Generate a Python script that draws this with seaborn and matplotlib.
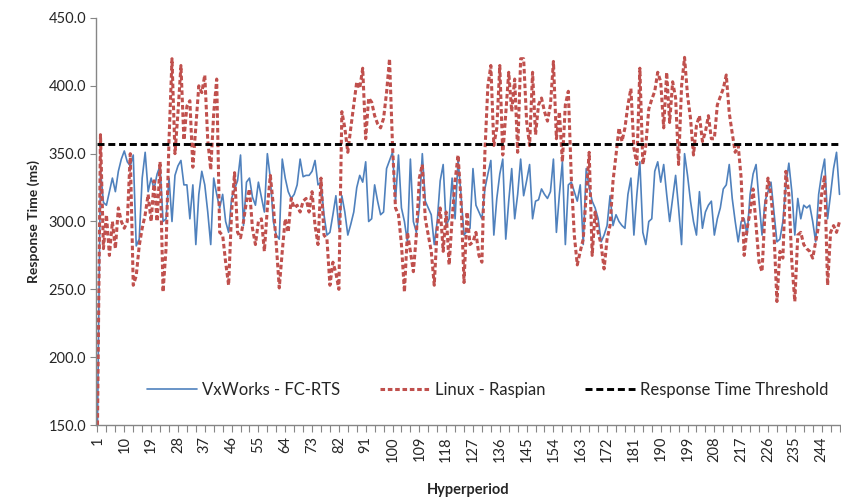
import matplotlib
matplotlib.use("Agg")
import matplotlib.pyplot as plt
import seaborn as sns
import pandas as pd
from matplotlib.ticker import FixedLocator

vxworks = [
    150, 338, 314, 312, 322, 332, 322, 337, 346, 352, 344, 341, 349, 282, 287, 332, 351, 322, 332, 324,
    335, 341, 300, 302, 332, 300, 334, 341, 345, 327, 327, 302, 327, 283, 320,
    337, 327, 307, 283, 332, 320, 310, 320, 300, 292, 317, 324, 330, 349, 297, 329, 332, 318, 312, 329,
    318, 307, 350, 332, 300, 290, 287, 346, 332, 322, 317, 320, 327, 346, 333, 334,
    334, 337, 345, 327, 329, 305, 290, 292, 305, 319, 295, 319, 307, 290, 298, 307, 325, 334, 329, 344,
    300, 302, 327, 315, 305, 307, 339, 345, 351, 315, 349, 310, 300, 285, 346,
    300, 292, 310, 350, 315, 310, 305, 283, 300, 330, 342, 297, 302, 332, 302, 346, 319, 290, 293, 295,
    339, 312, 307, 302, 324, 335, 345, 290, 317, 335, 346, 287, 315, 339, 302, 320,
    346, 319, 330, 342, 302, 315, 316, 324, 320, 317, 322, 346, 292, 320, 344, 283, 327, 329, 322, 315,
    327, 283, 339, 325, 315, 310, 302, 285, 290, 297, 319, 297, 305, 300, 297, 295,
    320, 332, 290, 320, 344, 292, 283, 300, 302, 337, 344, 329, 342, 320, 300, 317, 334, 310, 283, 350,
    334, 315, 300, 290, 322, 295, 307, 312, 315, 290, 302, 310, 324, 327, 342,
    317, 300, 285, 300, 302, 290, 320, 335, 342, 315, 290, 315, 322, 329, 307, 285, 287, 300, 327, 343,
    322, 290, 317, 302, 312, 310, 312, 300, 285, 320, 335, 346, 302, 320, 339, 351, 320,
]

linux = [
    150, 364, 280, 305, 275, 300, 280, 310, 300, 295, 300, 350, 253, 260, 282, 295, 305, 320, 300, 330,
    300, 344, 248, 280, 360, 420, 350, 380, 415, 360, 385, 389, 340, 370, 400, 395, 408, 360, 338, 380,
    405, 292,
    290, 270, 253, 307, 336, 292, 288, 300, 315, 324, 295, 283, 300, 302, 278, 310, 334, 312, 283, 251,
    278, 302, 292, 317, 310, 312, 307, 315, 317,
    307, 322, 297, 283, 332, 290, 287, 253, 270, 262, 250, 381, 369, 351, 369, 386, 403, 398, 413, 361,
    391, 388, 378, 372, 369, 376, 395, 420, 356, 310, 305, 283, 248, 292, 278,
    263, 290, 332, 342, 302, 290, 278, 253, 295, 310, 278, 307, 268, 302, 330, 349, 315, 255, 307, 283,
    285, 292, 275, 270, 351, 400, 415, 356, 369, 415, 349, 380, 410, 381, 405, 351,
    420, 420, 374, 356, 410, 364, 386, 391, 381, 374, 386, 418, 361, 381, 344, 386, 396, 332, 290, 268,
    278, 287, 320, 351, 275, 307, 292, 283, 265, 287, 297, 330, 349, 369, 359, 369,
    386, 398, 354, 342, 413, 342, 356, 383, 390, 396, 410, 403, 369, 410, 373, 403, 391, 342, 400, 421,
    393, 376, 349, 371, 378, 359, 366, 378, 361, 361, 386, 392, 398, 408, 380,
    365, 351, 356, 332, 275, 295, 307, 324, 297, 270, 263, 307, 332, 320, 292, 241, 278, 273, 337, 320,
    270, 241, 290, 292, 283, 280, 278, 273, 285, 297, 320, 334, 253, 292, 297, 292, 300,
]

threshold_value = 357
series_names = ["VxWorks - FC-RTS", "Linux - Raspian", "Response Time Threshold"]
y_ticks = [150, 200, 250, 300, 350, 400, 450]
x_tick_labels = list(range(1, 245, 9))

hyper_vx = list(range(1, len(vxworks) + 1))
hyper_lx = list(range(1, len(linux) + 1))
df_vx = pd.DataFrame({"Hyperperiod": hyper_vx, "ms": vxworks})
df_lx = pd.DataFrame({"Hyperperiod": hyper_lx, "ms": linux})
df_th = pd.DataFrame({"Hyperperiod": hyper_lx, "ms": [threshold_value] * len(hyper_lx)})

sns.set_theme(style="white")
plt.rcParams["font.family"] = ["Lato", "DejaVu Sans"]

fig = plt.figure(figsize=(8.41, 4.98), dpi=100)
ax = fig.add_axes([96 / 841, 73 / 498, 745 / 841, 407 / 498])

sns.lineplot(data=df_vx, x="Hyperperiod", y="ms", ax=ax, color="#4F81BD",
             linewidth=1.2, label=series_names[0])
sns.lineplot(data=df_lx, x="Hyperperiod", y="ms", ax=ax, color="#C0504D",
             linewidth=2.2, label=series_names[1])
ax.lines[-1].set_linestyle((0, (1.5, 0.9)))
sns.lineplot(data=df_th, x="Hyperperiod", y="ms", ax=ax, color="black",
             linewidth=2.1, label=series_names[2])
ax.lines[-1].set_linestyle((0, (2.4, 1.3)))

ax.set_xlim(0.5, 250.5)
ax.set_ylim(150, 450)
ax.set_yticks(y_ticks)
ax.set_yticklabels([f"{v:.1f}" for v in y_ticks], fontsize=10.5)
ax.set_xticks(x_tick_labels)
ax.set_xticklabels([str(v) for v in x_tick_labels], rotation=90, fontsize=10.5)
ax.xaxis.set_minor_locator(FixedLocator(list(range(1, 251, 3))))

ax.tick_params(axis="x", which="both", direction="out", length=5, width=0.8,
               color="#868686", bottom=True, pad=3)
ax.tick_params(axis="y", which="major", direction="out", length=4, width=0.8,
               color="#868686", left=True, pad=3)

for side in ["top", "right"]:
    ax.spines[side].set_visible(False)
for side in ["left", "bottom"]:
    ax.spines[side].set_color("#868686")
    ax.spines[side].set_linewidth(1.0)

ax.set_xlabel("Hyperperiod", fontsize=10.5, fontweight="bold", labelpad=15)
ax.set_ylabel("Response Time (ms)", fontsize=10, fontweight="bold", labelpad=6)

leg = ax.legend(loc="center", bbox_to_anchor=(0.526, 0.086), ncol=3, frameon=False,
                fontsize=12, handlelength=3.0, columnspacing=2.4, handletextpad=0.3)

fig.savefig("out.png", dpi=100)
